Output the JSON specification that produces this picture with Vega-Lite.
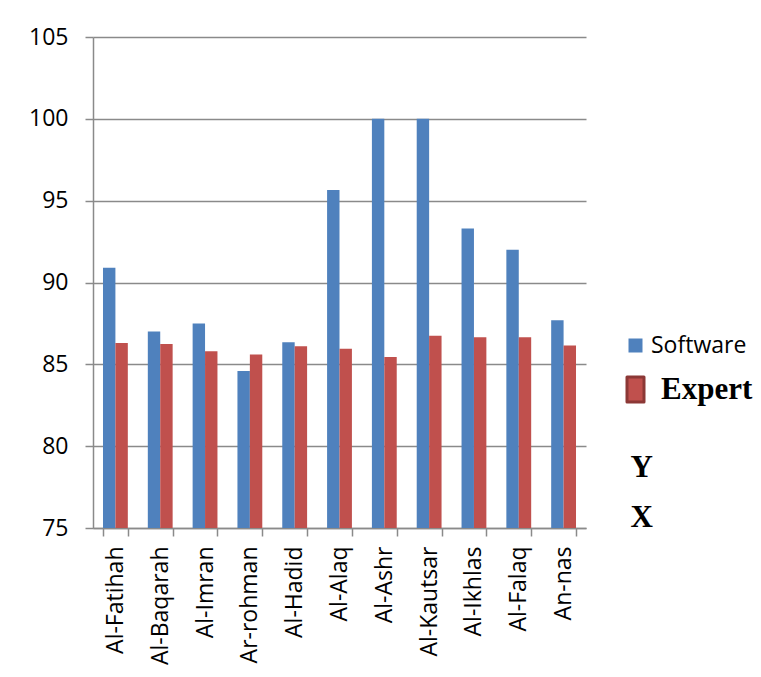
{
  "$schema": "https://vega.github.io/schema/vega-lite/v6.json",
  "width": 493,
  "height": 491,
  "autosize": {"type": "none"},
  "padding": {"left": 93, "top": 37, "right": 175, "bottom": 149},
  "background": "white",
  "config": {
    "view": {"stroke": null},
    "font": "Open Sans",
    "axis": {
      "domainColor": "#8a8a8a",
      "domainWidth": 1.5,
      "tickColor": "#8a8a8a",
      "tickWidth": 1.5,
      "tickSize": 8,
      "gridColor": "#8a8a8a",
      "gridWidth": 1.5,
      "labelFont": "Open Sans",
      "labelFontSize": 23,
      "labelColor": "#000000",
      "titleFont": "Liberation Serif",
      "titleFontWeight": "bold",
      "titleFontSize": 31,
      "titleColor": "#000000"
    }
  },
  "data": {
    "values": [
      {"surah": "Al-Fatihah", "source": "Software", "value": 90.9},
      {"surah": "Al-Fatihah", "source": "Expert", "value": 86.3},
      {"surah": "Al-Baqarah", "source": "Software", "value": 87.0},
      {"surah": "Al-Baqarah", "source": "Expert", "value": 86.25},
      {"surah": "Al-Imran", "source": "Software", "value": 87.5},
      {"surah": "Al-Imran", "source": "Expert", "value": 85.8},
      {"surah": "Ar-rohman", "source": "Software", "value": 84.6},
      {"surah": "Ar-rohman", "source": "Expert", "value": 85.6},
      {"surah": "Al-Hadid", "source": "Software", "value": 86.35},
      {"surah": "Al-Hadid", "source": "Expert", "value": 86.1},
      {"surah": "Al-Alaq", "source": "Software", "value": 95.65},
      {"surah": "Al-Alaq", "source": "Expert", "value": 85.95},
      {"surah": "Al-Ashr", "source": "Software", "value": 100},
      {"surah": "Al-Ashr", "source": "Expert", "value": 85.45},
      {"surah": "Al-Kautsar", "source": "Software", "value": 100},
      {"surah": "Al-Kautsar", "source": "Expert", "value": 86.75},
      {"surah": "Al-Ikhlas", "source": "Software", "value": 93.3},
      {"surah": "Al-Ikhlas", "source": "Expert", "value": 86.65},
      {"surah": "Al-Falaq", "source": "Software", "value": 92.0},
      {"surah": "Al-Falaq", "source": "Expert", "value": 86.65},
      {"surah": "An-nas", "source": "Software", "value": 87.7},
      {"surah": "An-nas", "source": "Expert", "value": 86.15}
    ]
  },
  "mark": {"type": "bar", "clip": true},
  "encoding": {
    "x": {
      "field": "surah",
      "type": "nominal",
      "sort": null,
      "scale": {"paddingInner": 0.446, "paddingOuter": 0.223},
      "axis": {
        "title": "X",
        "titleAngle": 0,
        "titleAlign": "left",
        "titleBaseline": "alphabetic",
        "titleX": 537,
        "titleY": -2,
        "labelAngle": -90,
        "labelPadding": 10,
        "tickBand": "extent",
        "grid": false
      }
    },
    "xOffset": {
      "field": "source",
      "type": "nominal",
      "sort": ["Software", "Expert"],
      "scale": {"paddingInner": 0, "paddingOuter": 0}
    },
    "y": {
      "field": "value",
      "type": "quantitative",
      "scale": {"domain": [75, 105], "zero": false, "nice": false},
      "axis": {
        "values": [75, 80, 85, 90, 95, 100, 105],
        "title": "Y",
        "titleAngle": 0,
        "titleAlign": "left",
        "titleBaseline": "alphabetic",
        "titleX": 537,
        "titleY": 439,
        "labelPadding": 17,
        "grid": true
      }
    },
    "color": {
      "field": "source",
      "type": "nominal",
      "sort": ["Software", "Expert"],
      "scale": {"domain": ["Software", "Expert"], "range": ["#4F81BD", "#C0504D"]},
      "legend": {
        "title": null,
        "orient": "none",
        "legendX": 531,
        "legendY": 297,
        "padding": 0,
        "symbolSize": 625,
        "symbolType": "square",
        "labelOffset": 4,
        "rowPadding": 15,
        "labelFont": "Open Sans",
        "labelFontSize": 23,
        "labelColor": "#000000",
        "encoding": {
          "symbols": {
            "shape": {"value": {"expr": "datum.value === 'Expert' ? 'M-0.68,-1H0.68V1H-0.68Z' : 'square'"}},
            "size": {"value": {"expr": "datum.value === 'Expert' ? 625 : 196"}},
            "stroke": {"value": {"expr": "datum.value === 'Expert' ? '#8C3836' : 'transparent'"}},
            "strokeWidth": {"value": {"expr": "datum.value === 'Expert' ? 3 : 0"}},
            "strokeJoin": {"value": "round"}
          },
          "labels": {
            "font": {"value": {"expr": "datum.value === 'Expert' ? 'Liberation Serif' : 'Open Sans'"}},
            "fontWeight": {"value": {"expr": "datum.value === 'Expert' ? 'bold' : 'normal'"}},
            "fontSize": {"value": {"expr": "datum.value === 'Expert' ? 31 : 23"}},
            "dx": {"value": {"expr": "datum.value === 'Expert' ? 10 : 0"}}
          }
        }
      }
    }
  }
}
